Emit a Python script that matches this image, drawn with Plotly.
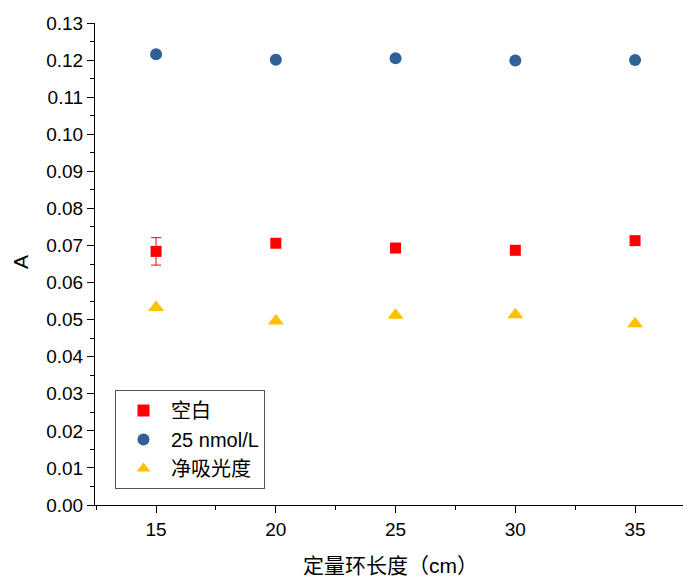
import plotly.graph_objects as go

x_len = [15, 20, 25, 30, 35]
blank = [0.0684, 0.0706, 0.0693, 0.0687, 0.0713]
blank_err = [0.0037, 0, 0, 0, 0]
std25 = [0.1216, 0.1201, 0.1205, 0.1199, 0.1200]
net = [0.0533, 0.0496, 0.0512, 0.0513, 0.0489]

FONT = "Liberation Sans, Arial, Noto Sans CJK SC"

PW = 604.0  # plot width in px
PH = 482.0  # plot height in px

fig = go.Figure()
fig.add_trace(go.Scatter(
    x=x_len, y=blank, mode="markers", name="空白",
    marker=dict(symbol="square", size=11, color="#ff0000"),
    error_y=dict(type="data", array=blank_err, color="#ff0000", thickness=1, width=5),
))
fig.add_trace(go.Scatter(
    x=x_len, y=std25, mode="markers", name="25 nmol/L",
    marker=dict(symbol="circle", size=12, color="#2f6197"),
))
fig.add_trace(go.Scatter(
    x=x_len, y=net, mode="markers", name="净吸光度",
    marker=dict(symbol="triangle-up", size=14, color="#ffc000"),
))

axis_common = dict(
    showgrid=False, zeroline=False, showline=True, linecolor="black", linewidth=1,
    ticks="outside", ticklen=7, tickwidth=1, tickcolor="black",
    tickfont=dict(family=FONT, size=19, color="black"),
    automargin=False,
)
fig.update_xaxes(
    range=[12.45, 37.67], tickvals=[15, 20, 25, 30, 35],
    minor=dict(ticks="outside", ticklen=4, tickcolor="black", dtick=2.5, tick0=12.5),
    **axis_common,
)
fig.update_yaxes(
    range=[0, 0.13], dtick=0.01, tickformat=".2f",
    minor=dict(ticks="outside", ticklen=4, tickcolor="black", dtick=0.005),
    **axis_common,
)
fig.add_annotation(
    text="A", xref="paper", yref="paper", x=-75 / PW, y=(505 - 262) / PH,
    xanchor="center", yanchor="middle", textangle=-90, showarrow=False,
    font=dict(family=FONT, size=21, color="black"),
)
fig.add_annotation(
    text="定量环长度（cm）", xref="paper", yref="paper", x=(390 - 95) / PW, y=-(565 - 505) / PH,
    xanchor="center", yanchor="middle", showarrow=False,
    font=dict(family=FONT, size=21, color="black"),
)
fig.update_layout(
    width=691, height=577,
    margin=dict(l=87, r=0, t=15, b=80),
    plot_bgcolor="white", paper_bgcolor="white",
    showlegend=True,
    legend=dict(
        x=(115 - 95) / PW, y=(505 - 390) / PH, xanchor="left", yanchor="top",
        bordercolor="#555555", borderwidth=1, bgcolor="white",
        font=dict(family=FONT, size=20, color="black"),
        itemsizing="constant", tracegroupgap=0, itemwidth=45,
    ),
)
fig.write_html("out.html")
